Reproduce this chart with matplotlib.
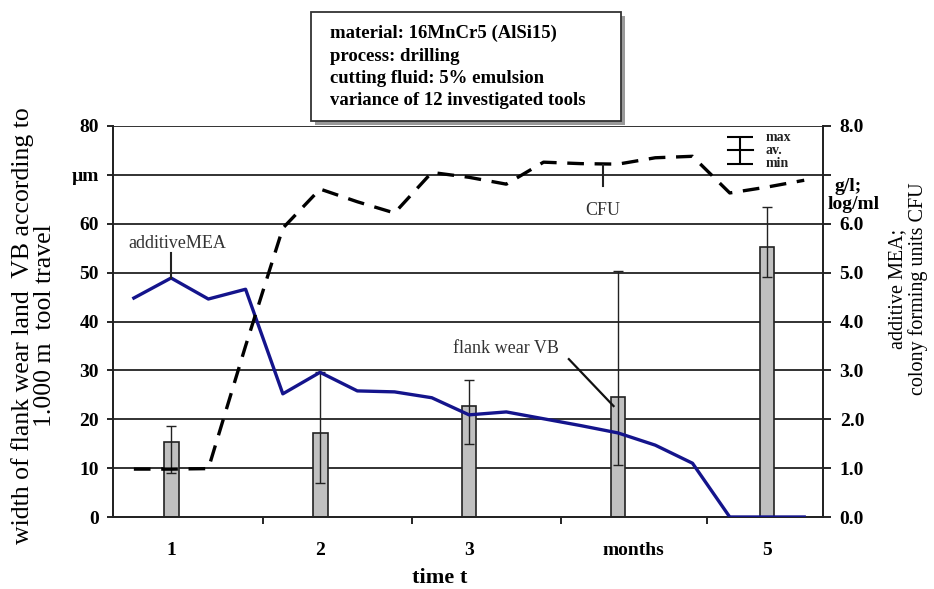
import numpy as np
import matplotlib
matplotlib.use("Agg")
import matplotlib.pyplot as plt
from matplotlib.patches import Rectangle

# ---- data ----
bar_pos = [1, 2, 3, 4, 5]
wear_vb = [15.4, 17.2, 22.8, 24.5, 55.3]       # flank wear VB, um
wear_max = [18.7, 29.7, 28.0, 50.3, 63.4]
wear_min = [9.0, 6.9, 14.9, 10.6, 49.1]

line_t = [0.75, 1.0, 1.25, 1.5, 1.75, 2.0, 2.25, 2.5, 2.75, 3.0,
          3.25, 3.5, 3.75, 4.0, 4.25, 4.5, 4.75, 5.0, 5.25]
mea = [4.48, 4.89, 4.46, 4.66, 2.52, 2.96, 2.58, 2.56, 2.44, 2.09,
       2.15, 2.01, 1.87, 1.72, 1.47, 1.10, 0.0, 0.0, 0.0]          # g/l
cfu = [0.98, 0.98, 0.99, 3.5, 5.91, 6.71, 6.45, 6.22, 7.05, 6.95,
       6.81, 7.26, 7.23, 7.22, 7.35, 7.38, 6.63, 6.75, 6.89]       # log/ml

tick_labels = ["1", "2", "3", "months", "5"]
left_ticks = [0, 10, 20, 30, 40, 50, 60, 70, 80]
left_labels = ["0", "10", "20", "30", "40", "50", "60", "\u00b5m", "80"]
right_ticks = [0, 1, 2, 3, 4, 5, 6, 7, 8]
right_labels = ["0.0", "1.0", "2.0", "3.0", "4.0", "5.0", "6.0", "", "8.0"]

info = ["material: 16MnCr5 (AlSi15)", "process: drilling",
        "cutting fluid: 5% emulsion", "variance of 12 investigated tools"]

plt.rcParams["font.family"] = ["Liberation Serif", "DejaVu Serif"]

W, H = 934, 589
fig = plt.figure(figsize=(W / 100, H / 100), dpi=100)
ax = fig.add_axes([113 / W, 1 - 517 / H, 710 / W, 391 / H])
ax2 = ax.twinx()

ax.set_xlim(0.61, 5.376)
ax.set_ylim(0, 80)
ax2.set_ylim(0, 8)

# grid
for v in left_ticks[1:]:
    ax.axhline(v, color="#222222", lw=1.3, zorder=0)

# bars with error bars
vb = np.array(wear_vb)
err = [vb - np.array(wear_min), np.array(wear_max) - vb]
ax.bar(bar_pos, wear_vb, width=0.1, color="#c0c0c0", edgecolor="#222222",
       lw=1.2, zorder=2)
ax.errorbar(bar_pos, wear_vb, yerr=err, fmt="none", ecolor="#222222",
            elinewidth=1.0, capsize=3.5, capthick=1.0, zorder=3)

# lines on right axis
ax2.plot(line_t, mea, color="#14148c", lw=2.4, zorder=4)
ax2.plot(line_t, cfu, color="black", lw=2.4, dashes=(5, 3.2), zorder=4)

# ticks
ax.set_xticks([1, 2, 3, 4.1, 5])
ax.set_xticklabels(tick_labels, fontsize=14, fontweight="bold")
ax.tick_params(axis="x", which="major", length=0, pad=18)
ax.set_xticks([1.617, 2.62, 3.62, 4.6], minor=True)
ax.tick_params(axis="x", which="minor", length=5, width=1.2)
ax.set_yticks(left_ticks)
ax.set_yticklabels(left_labels, fontsize=14, fontweight="bold")
ax.tick_params(axis="y", length=4, width=1.2, pad=6)
ax2.set_yticks(right_ticks)
ax2.set_yticklabels(right_labels, fontsize=14, fontweight="bold")
ax2.tick_params(axis="y", length=6, width=1.2, pad=6)

for a in (ax, ax2):
    a.spines["top"].set_visible(False)
    for s in ("left", "right", "bottom"):
        a.spines[s].set_linewidth(1.3)
        a.spines[s].set_color("#222222")

ax2.text(1.035, 0.845, "g/l;", transform=ax.transAxes, fontsize=14,
         fontweight="bold", ha="center", va="center")
ax2.text(1.043, 0.8, "log/ml", transform=ax.transAxes, fontsize=14,
         fontweight="bold", ha="center", va="center")

# axis labels (placed in figure pixels)
fig.text(34 / W, 1 - 326 / H,
         "width of flank wear land  VB according to\n1.000 m  tool travel",
         rotation=90, fontsize=18.5, linespacing=1.0, ha="center",
         va="center", multialignment="center")
fig.text(908 / W, 1 - 289 / H, "additive MEA;\ncolony forming units CFU",
         rotation=90, fontsize=14.5, linespacing=1.1, ha="center",
         va="center", multialignment="center")
fig.text(440 / W, 1 - 578 / H, "time t", fontsize=16, fontweight="bold",
         ha="center", va="center")

# annotations
ax2.plot([1.0, 1.0], [4.89, 5.4], color="#222222", lw=1.5, zorder=5)
ax2.text(1.04, 5.6, "additiveMEA", fontsize=13, color="#333333",
         ha="center", va="center")
ax2.plot([3.9, 3.9], [7.2, 6.78], color="#222222", lw=1.5, zorder=5)
ax2.text(3.9, 6.28, "CFU", fontsize=13, color="#333333", ha="center",
         va="center")
ax.text(3.25, 34.5, "flank wear VB", fontsize=13, color="#333333",
        ha="center", va="center")
ax.plot([3.67, 3.97], [32.3, 22.7], color="#111111", lw=1.6, zorder=5)

# legend icon (max / av. / min)
ax2.errorbar([4.82], [7.5], yerr=[[0.28], [0.27]], fmt="none", ecolor="black",
             elinewidth=1.5, capsize=9.5, capthick=1.5)
ax2.plot([4.735, 4.905], [7.5, 7.5], color="black", lw=1.5)
for lab, yy in zip(["max", "av.", "min"], [7.76, 7.5, 7.24]):
    ax2.text(4.99, yy, lab, fontsize=10, fontweight="bold", va="center",
             ha="left", color="#222222")

# info box with shadow
bx, by, bw, bh = 311 / W, 1 - 121 / H, 310 / W, 109 / H
fig.patches.append(Rectangle((bx + 4 / W, by - 4 / H), bw, bh,
                             transform=fig.transFigure, facecolor="#9a9a9a",
                             edgecolor="none", zorder=1))
fig.patches.append(Rectangle((bx, by), bw, bh, transform=fig.transFigure,
                             facecolor="white", edgecolor="#333333", lw=1.3,
                             zorder=2))
fig.text(330 / W, 1 - 67 / H, "\n".join(info), fontsize=13.5,
         fontweight="bold", ha="left", va="center", linespacing=1.4,
         zorder=3)

fig.savefig("out.png", dpi=100)
